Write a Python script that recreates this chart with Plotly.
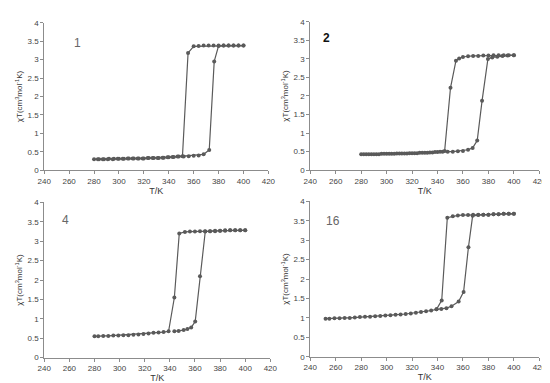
import plotly.graph_objects as go

# Panel 1 (compound 1)
p1_heat_T = [280,284,288,292,296,300,304,308,312,316,320,324,328,332,336,340,344,348,352,356,360,364,368,372.5,376.5,380,384,388,392,396,400]
p1_heat_y = [0.30,0.30,0.30,0.31,0.31,0.31,0.31,0.32,0.32,0.32,0.32,0.33,0.33,0.33,0.34,0.35,0.36,0.37,0.37,0.38,0.39,0.40,0.43,0.55,2.95,3.37,3.38,3.38,3.38,3.38,3.38]
p1_cool_T = [400,396,392,388,384,380,376,372,368,364,360,355.5,351,347,343,339,335,331,327,323,319,315,311,307,303,299,295,291,287,283]
p1_cool_y = [3.38,3.38,3.38,3.38,3.38,3.38,3.38,3.38,3.38,3.37,3.36,3.18,0.38,0.37,0.36,0.35,0.34,0.33,0.33,0.33,0.32,0.32,0.32,0.32,0.31,0.31,0.30,0.30,0.30,0.30]

# Panel 2 (compound 2)
p2_heat_T = [280,284,288,292,296,300,304,308,312,316,320,324,328,332,336,340,344,348,352,356,360,364,367.6,371.2,375,379.6,383,387,391,395,400]
p2_heat_y = [0.43,0.43,0.43,0.43,0.44,0.44,0.44,0.45,0.45,0.45,0.46,0.46,0.47,0.47,0.48,0.49,0.50,0.50,0.50,0.51,0.52,0.55,0.60,0.80,1.87,3.00,3.04,3.06,3.08,3.09,3.10]
p2_cool_T = [400,396,392,388,384,380,376,372,368,364,360,357,354.5,350.2,345.6,342,338,334,330,326,322,318,314,310,306,302,298,294,290,286,282]
p2_cool_y = [3.10,3.10,3.10,3.10,3.10,3.09,3.09,3.08,3.08,3.07,3.05,3.01,2.95,2.22,0.52,0.50,0.49,0.48,0.47,0.47,0.46,0.46,0.45,0.45,0.44,0.44,0.44,0.43,0.43,0.43,0.43]

# Panel 3 (compound 4)
p3_heat_T = [343.6,347,351,354,357,360.2,364,368.2,372,376,380,384,388,392,396,400]
p3_heat_y = [0.68,0.69,0.71,0.74,0.78,0.93,2.10,3.25,3.26,3.26,3.27,3.27,3.28,3.28,3.28,3.28]
p3_cool_T = [400,396,392,388,384,380,376,372,368,364,360,356,352,347.5,343.6,339,335,331,327,323,319,315,311,307,303,299,295,291,287,283,280]
p3_cool_y = [3.28,3.28,3.28,3.28,3.28,3.27,3.27,3.26,3.26,3.26,3.25,3.25,3.24,3.20,1.55,0.68,0.66,0.65,0.64,0.62,0.61,0.60,0.59,0.58,0.58,0.57,0.57,0.56,0.56,0.55,0.55]

# Panel 4 (compound 16)
p4_heat_T = [339.2,343,347,351,356.6,360.5,364.3,367.6,372,376,380,384,388,392,396,400]
p4_heat_y = [1.22,1.23,1.25,1.30,1.42,1.67,2.82,3.63,3.65,3.66,3.66,3.67,3.67,3.68,3.68,3.68]
p4_cool_T = [400,396,392,388,384,380,376,372,368,364,360,356,352,347.7,343.3,339.2,335,331,327,323,319,315,311,307,303,299,295,291,287,283,279,275,271,267,263,259,255,252]
p4_cool_y = [3.68,3.68,3.68,3.67,3.67,3.66,3.66,3.66,3.66,3.65,3.65,3.64,3.62,3.58,1.45,1.22,1.19,1.17,1.15,1.13,1.11,1.10,1.09,1.08,1.07,1.06,1.05,1.04,1.03,1.03,1.02,1.01,1.00,1.00,0.99,0.99,0.98,0.98]

panel_labels = ["1", "2", "4", "16"]
label_pos = [(267, 3.44), (253, 3.55), (257, 3.55), (258, 3.5)]
x_ticks = [240, 260, 280, 300, 320, 340, 360, 380, 400, 420]
y_ticks = [0, 0.5, 1, 1.5, 2, 2.5, 3, 3.5, 4]

panels = [
    (p1_heat_T, p1_heat_y, p1_cool_T, p1_cool_y),
    (p2_heat_T, p2_heat_y, p2_cool_T, p2_cool_y),
    (p3_heat_T, p3_heat_y, p3_cool_T, p3_cool_y),
    (p4_heat_T, p4_heat_y, p4_cool_T, p4_cool_y),
]

W, H = 550, 383
xdoms = [(30, 260), (303, 538), (30, 262), (303, 538)]
ydoms = [(11, 162), (10, 162), (195, 354), (194, 353)]
FONT = "Liberation Sans, Arial, sans-serif"

fig = go.Figure()
color = "#5a5a5a"
layout = {}
for i, (hT, hy, cT, cy) in enumerate(panels):
    n = "" if i == 0 else str(i + 1)
    xa, ya = "x" + n, "y" + n
    for T, y in ((hT, hy), (cT, cy)):
        fig.add_trace(go.Scatter(x=T, y=y, mode="lines+markers", xaxis=xa, yaxis=ya,
                                 line=dict(color=color, width=1.2),
                                 marker=dict(symbol="circle", size=4, color=color),
                                 showlegend=False, hoverinfo="skip"))
    x0, x1 = xdoms[i]
    y0, y1 = ydoms[i]
    axcommon = dict(showgrid=False, zeroline=False, showline=True, linecolor="#8c8c8c", linewidth=1,
                    ticks="outside", ticklen=3, tickcolor="#8c8c8c",
                    tickfont=dict(family=FONT, size=8, color="#444444"))
    layout["xaxis" + n] = dict(axcommon, domain=[x0 / W, x1 / W], range=[240, 420], tickvals=x_ticks,
                               anchor=ya,
                               title=dict(text="T/K", font=dict(family=FONT, size=9, color="#333333"), standoff=2))
    layout["yaxis" + n] = dict(axcommon, domain=[1 - y1 / H, 1 - y0 / H], range=[0, 4], tickvals=y_ticks,
                               anchor=xa,
                               title=dict(text="χT(cm<sup>3</sup>mol<sup>-1</sup>K)",
                                          font=dict(family=FONT, size=8, color="#333333"), standoff=3))
    lbl = "<b>" + panel_labels[i] + "</b>" if i == 1 else panel_labels[i]
    fig.add_annotation(x=label_pos[i][0], y=label_pos[i][1], xref=xa, yref=ya, text=lbl,
                       showarrow=False,
                       font=dict(family=FONT, size=12,
                                 color="#111111" if i == 1 else "#666666"))

fig.update_layout(**layout)
fig.update_layout(width=W, height=H, margin=dict(l=0, r=0, t=0, b=0),
                  paper_bgcolor="white", plot_bgcolor="white")
fig.write_html("out.html")
